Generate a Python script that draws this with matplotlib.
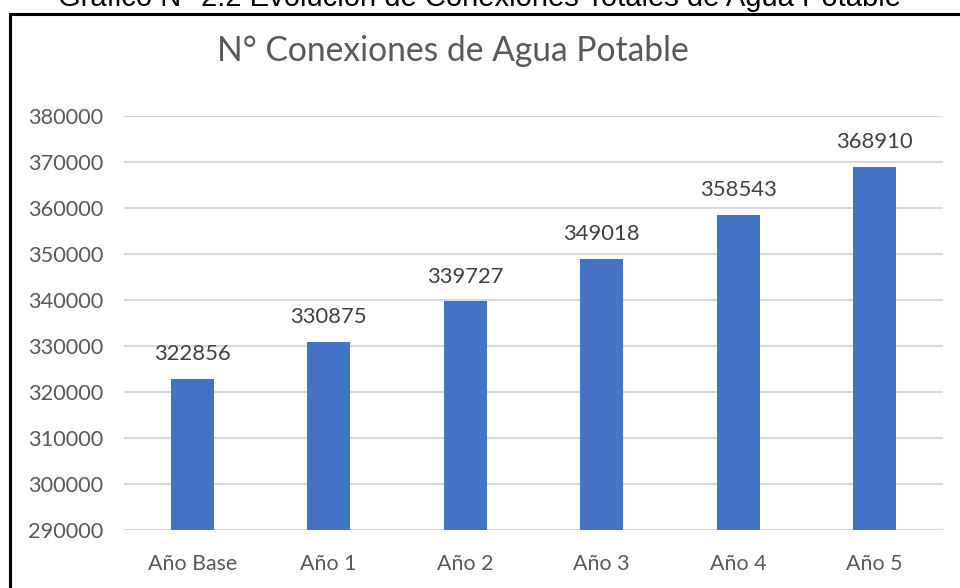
import matplotlib
matplotlib.use("Agg")
import matplotlib.pyplot as plt
from matplotlib.patches import Rectangle

categories = ["Año Base", "Año 1", "Año 2", "Año 3", "Año 4", "Año 5"]
values = [322856, 330875, 339727, 349018, 358543, 368910]
yticks = [290000, 300000, 310000, 320000, 330000, 340000, 350000, 360000, 370000, 380000]

W, H = 960, 588
fig = plt.figure(figsize=(W / 100, H / 100), dpi=100)
fig.patch.set_facecolor("white")

ax = fig.add_axes([124 / W, 1 - 530 / H, (943 - 124) / W, (530 - 116) / H])
x = list(range(len(categories)))
ax.bar(x, values, width=0.315, color="#4472C4", zorder=3)
ax.set_xlim(-0.5, len(categories) - 0.5)
ax.set_ylim(yticks[0], yticks[-1])
ax.set_yticks(yticks)
ax.set_yticklabels([str(v) for v in yticks])
ax.set_xticks(x)
ax.set_xticklabels(categories)
ax.yaxis.grid(True, color="#d9d9d9", linewidth=1.5, zorder=0)
ax.set_axisbelow(True)
for s in ax.spines.values():
    s.set_visible(False)
ax.tick_params(axis="both", length=0, labelcolor="#595959")
ax.tick_params(axis="y", pad=15, labelsize=15.7)
ax.tick_params(axis="x", pad=17, labelsize=15.4)
for lbl in ax.get_xticklabels() + ax.get_yticklabels():
    lbl.set_family("Lato")

for xi, v in zip(x, values):
    ax.annotate(str(v), (xi, v), xytext=(0, 10.5), textcoords="offset points",
                ha="center", va="bottom", fontsize=15.8, color="#404040", family="Lato")

fig.text(453 / W, 1 - 51 / H, "N° Conexiones de Agua Potable", ha="center", va="center",
         fontsize=24.2, color="#595959", family="Lato")

fig.text(480 / W, 1 - 6 / H, "Gráfico N° 2.2 Evolución de Conexiones Totales de Agua Potable",
         ha="center", va="baseline", fontsize=21, color="black", family="Liberation Sans")

fig.add_artist(Rectangle((10 / W, -0.1), 1.2, 1.1 - 14 / H + 0.0, transform=fig.transFigure,
                         fill=False, edgecolor="black", linewidth=2.2))

fig.savefig("out.png", dpi=100)
